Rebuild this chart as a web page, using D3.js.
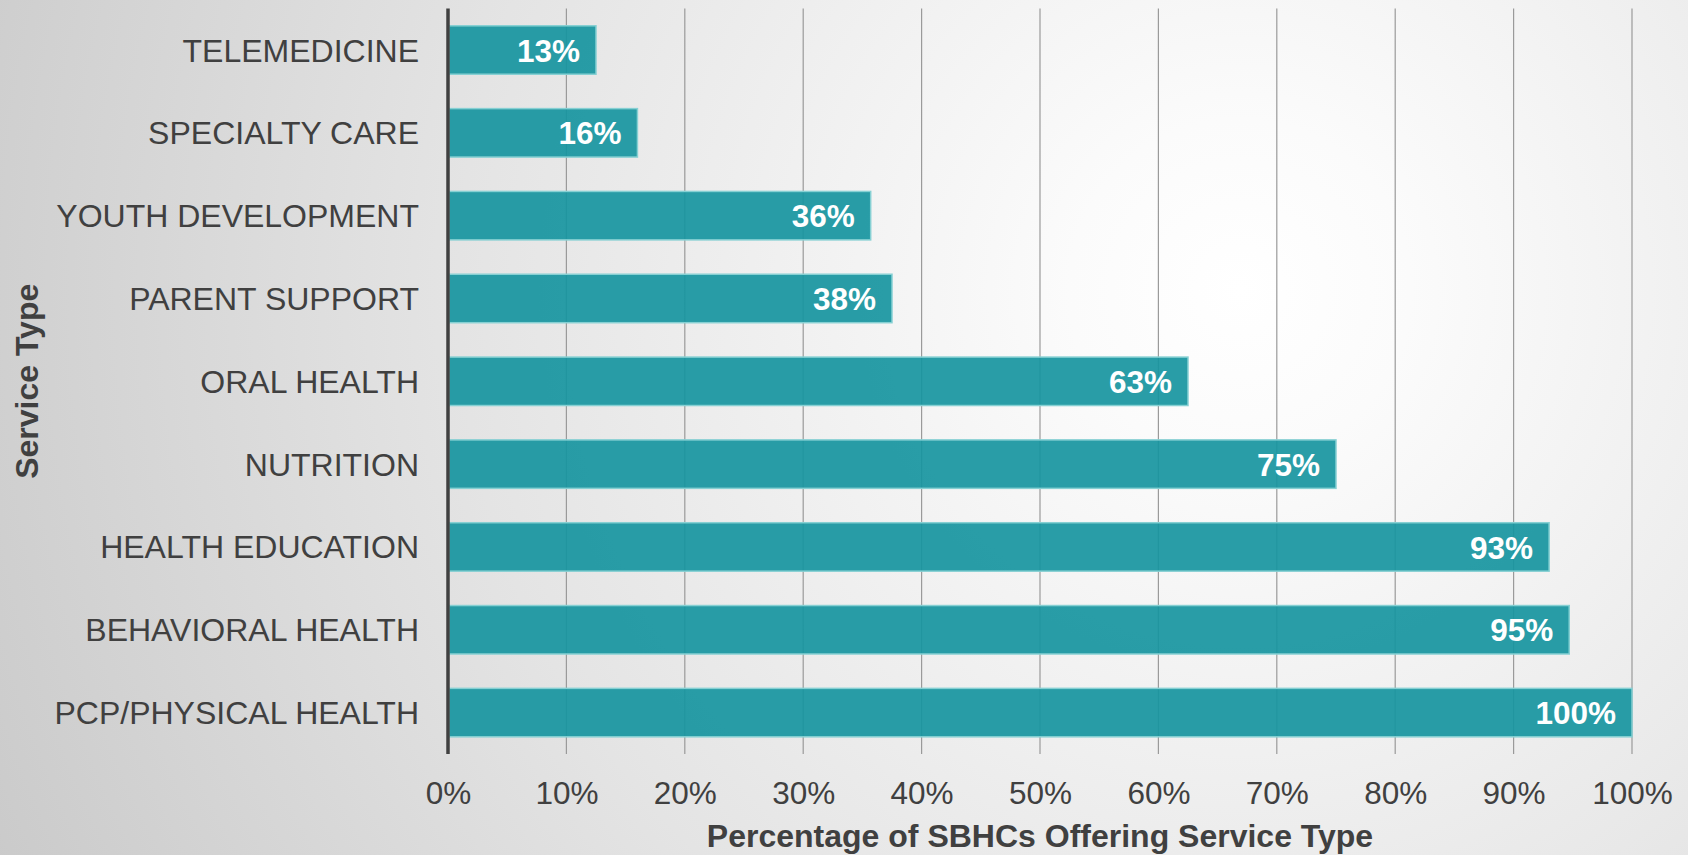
<!DOCTYPE html>
<html>
<head>
<meta charset="utf-8">
<script src="https://cdn.jsdelivr.net/npm/d3@7"></script>
<style>
  html, body { margin: 0; padding: 0; overflow: hidden; }
  svg { display: block; font-family: "Liberation Sans", Arial, sans-serif; }
</style>
</head>
<body>
<svg id="chart" width="1688" height="855"></svg>
<script>
const categories = ["TELEMEDICINE", "SPECIALTY CARE", "YOUTH DEVELOPMENT", "PARENT SUPPORT", "ORAL HEALTH", "NUTRITION", "HEALTH EDUCATION", "BEHAVIORAL HEALTH", "PCP/PHYSICAL HEALTH"];
const values = [12.5, 16, 35.7, 37.5, 62.5, 75, 93, 94.7, 100];
const valueLabels = ["13%", "16%", "36%", "38%", "63%", "75%", "93%", "95%", "100%"];
const tickValues = [0, 10, 20, 30, 40, 50, 60, 70, 80, 90, 100];
const xTitle = "Percentage of SBHCs Offering Service Type";
const yTitle = "Service Type";

const W = 1688, H = 855;
const margin = { left: 448, right: 56, top: 8.6, bottom: 101 };
const svg = d3.select("#chart");

const defs = svg.append("defs");
const grad = defs.append("radialGradient").attr("id", "bg")
  .attr("gradientUnits", "userSpaceOnUse")
  .attr("cx", 1240).attr("cy", 290).attr("r", 1420);
grad.append("stop").attr("offset", "0").attr("stop-color", "#ffffff");
grad.append("stop").attr("offset", "0.12").attr("stop-color", "#fbfbfb");
grad.append("stop").attr("offset", "0.55").attr("stop-color", "#e4e4e4");
grad.append("stop").attr("offset", "1").attr("stop-color", "#c8c8c8");
svg.append("rect").attr("width", W).attr("height", H).attr("fill", "url(#bg)");

const x = d3.scaleLinear().domain([0, 100]).range([margin.left, W - margin.right]);
const y = d3.scaleBand().domain(categories)
  .range([margin.top, H - margin.bottom])
  .paddingInner(0.415).paddingOuter(0.2075);

// gridlines
svg.append("g").selectAll("line").data(tickValues.filter(d => d > 0)).join("line")
  .attr("x1", d => x(d)).attr("x2", d => x(d))
  .attr("y1", margin.top).attr("y2", H - margin.bottom)
  .attr("stroke", "#9a9a9a").attr("stroke-width", 1.2);

// bars
svg.append("g").selectAll("rect").data(categories).join("rect")
  .attr("x", x(0) + 1)
  .attr("y", d => y(d))
  .attr("width", (d, i) => x(values[i]) - x(0) - 1)
  .attr("height", y.bandwidth())
  .attr("fill", "#17959f").attr("fill-opacity", 0.92)
  .attr("stroke", "#86d0d3").attr("stroke-width", 1.5);

// value labels
svg.append("g").selectAll("text").data(categories).join("text")
  .attr("x", (d, i) => x(values[i]) - 16)
  .attr("y", d => y(d) + y.bandwidth() / 2)
  .attr("dy", "0.37em")
  .attr("text-anchor", "end")
  .attr("fill", "#ffffff").attr("font-weight", "bold").attr("font-size", 31.5)
  .text((d, i) => valueLabels[i]);

// y axis line + labels
svg.append("line")
  .attr("x1", x(0)).attr("x2", x(0))
  .attr("y1", margin.top).attr("y2", H - margin.bottom)
  .attr("stroke", "#404040").attr("stroke-width", 3.5);

svg.append("g").selectAll("text").data(categories).join("text")
  .attr("x", x(0) - 29)
  .attr("y", d => y(d) + y.bandwidth() / 2)
  .attr("dy", "0.36em")
  .attr("text-anchor", "end")
  .attr("fill", "#404040").attr("font-size", 32)
  .text(d => d);

// x axis tick labels
const xAxis = d3.axisBottom(x).tickValues(tickValues).tickFormat(d => d + "%").tickSize(0).tickPadding(0);
const gx = svg.append("g").attr("transform", `translate(0,${H - margin.bottom})`).call(xAxis);
gx.select(".domain").remove();
gx.selectAll("text")
  .attr("y", 50).attr("dy", "0")
  .attr("font-size", 31.5).attr("fill", "#404040")
  .attr("font-family", "Liberation Sans, Arial, sans-serif");

// axis titles
svg.append("text")
  .attr("x", (x(0) + x(100)) / 2).attr("y", 847)
  .attr("text-anchor", "middle")
  .attr("font-weight", "bold").attr("font-size", 32).attr("fill", "#404040")
  .text(xTitle);

svg.append("text")
  .attr("transform", `translate(38,${(margin.top + H - margin.bottom) / 2}) rotate(-90)`)
  .attr("text-anchor", "middle")
  .attr("font-weight", "bold").attr("font-size", 32).attr("fill", "#404040")
  .text(yTitle);
</script>
</body>
</html>
